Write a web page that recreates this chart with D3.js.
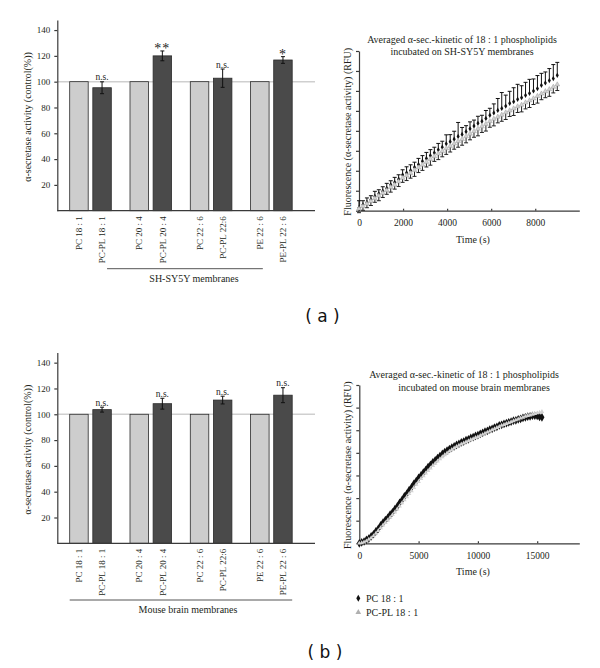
<!DOCTYPE html>
<html>
  <head>
    <meta charset="utf-8">
    <title>alpha-secretase activity</title>
    <script src="https://cdn.jsdelivr.net/npm/d3@7"></script>
    <style>
      body { margin: 0; background: #fff; }
      svg { display: block; }
    </style>
  </head>
  <body>
    <svg></svg>
    <script>
      // bar charts
      let categories = ["PC 18 : 1", "PC-PL 18 : 1", "PC 20 : 4", "PC-PL 20 : 4",
                        "PC 22 : 6", "PC-PL 22:6", "PE 22 : 6", "PE-PL 22 : 6"];
      let barTicks = [20, 40, 60, 80, 100, 120, 140];

      let valuesA = [100, 95.3, 100, 120, 100, 102.7, 100, 116.8];
      let errorsA = [0, 4.6, 0, 3.8, 0, 7.1, 0, 2.6];
      let sigA = ["", "n.s.", "", "**", "", "n.s.", "", "*"];

      let valuesB = [100, 103.6, 100, 108.2, 100, 111, 100, 114.8];
      let errorsB = [0, 1.9, 0, 4.2, 0, 3, 0, 5.8];
      let sigB = ["", "n.s.", "", "n.s.", "", "n.s.", "", "n.s."];

      // kinetics (a), SH-SY5Y
      let timeA = [0,180,360,540,720,900,1080,1260,1440,1620,1800,1980,2160,2340,2520,2700,2880,3060,3240,3420,
                   3600,3780,3960,4140,4320,4500,4680,4860,5040,5220,5400,5580,5760,5940,6120,6300,6480,6660,6840,7020,
                   7200,7380,7560,7740,7920,8100,8280,8460,8640,8820,9000];
      let pcA = [0.15,0.30,0.42,0.55,0.72,0.85,0.98,1.12,1.30,1.42,
                 1.58,1.80,1.90,2.02,2.18,2.32,2.48,2.62,2.76,2.90,
                 3.05,3.18,3.35,3.46,3.58,3.72,3.82,3.96,4.10,4.24,
                 4.38,4.48,4.62,4.78,4.90,5.02,5.12,5.24,5.38,5.46,
                 5.58,5.66,5.78,5.88,6.00,6.12,6.28,6.40,6.52,6.62,6.78];
      let pcErrA = [0.35,0.2,0.22,0.2,0.25,0.2,0.22,0.25,0.2,0.25,
                    0.22,0.25,0.3,0.28,0.25,0.3,0.28,0.3,0.3,0.28,
                    0.32,0.3,0.45,0.35,0.4,0.7,0.35,0.3,0.35,0.3,
                    0.35,0.3,0.4,0.35,0.45,0.6,0.8,0.55,0.6,0.7,
                    0.75,0.6,0.65,0.7,0.6,0.65,0.6,0.55,0.6,0.7,0.65];
      let plA = [0.10,0.22,0.35,0.48,0.62,0.75,0.88,1.02,1.18,1.30,
                 1.46,1.64,1.76,1.88,2.02,2.16,2.30,2.44,2.58,2.72,
                 2.86,2.98,3.12,3.24,3.36,3.48,3.58,3.72,3.85,3.98,
                 4.10,4.22,4.34,4.48,4.60,4.70,4.80,4.92,5.02,5.12,
                 5.22,5.30,5.42,5.52,5.62,5.74,5.86,5.98,6.08,6.20,6.32];
      let plErrA = [0.2,0.2,0.2,0.22,0.2,0.25,0.22,0.2,0.25,0.22,
                    0.25,0.22,0.25,0.25,0.3,0.25,0.28,0.25,0.3,0.25,
                    0.3,0.28,0.3,0.3,0.28,0.3,0.3,0.32,0.3,0.3,
                    0.35,0.3,0.35,0.3,0.35,0.3,0.32,0.35,0.3,0.35,
                    0.3,0.35,0.32,0.35,0.3,0.35,0.3,0.32,0.35,0.3,0.3];

      // kinetics (b), mouse brain
      let timeB = [0,200,400,600,800,1000,1200,1400,1600,1800,2000,2200,2400,2600,2800,3000,3200,3400,3600,3800,
                   4000,4200,4400,4600,4800,5000,5200,5400,5600,5800,6000,6200,6400,6600,6800,7000,7200,7400,7600,7800,
                   8000,8200,8400,8600,8800,9000,9200,9400,9600,9800,10000,10200,10400,10600,10800,11000,11200,11400,11600,11800,
                   12000,12200,12400,12600,12800,13000,13200,13400,13600,13800,14000,14200,14400,14600,14800,15000,15200,15400];
      let pcB = [0.00,0.04,0.08,0.15,0.21,0.31,0.40,0.53,0.64,0.79,
                 0.92,1.03,1.13,1.27,1.37,1.51,1.63,1.79,1.91,2.07,
                 2.19,2.35,2.47,2.63,2.75,2.89,3.00,3.13,3.24,3.37,
                 3.47,3.58,3.67,3.77,3.86,3.95,4.03,4.10,4.17,4.23,
                 4.29,4.35,4.40,4.46,4.50,4.56,4.60,4.66,4.69,4.75,
                 4.78,4.84,4.88,4.94,4.97,5.03,5.06,5.12,5.15,5.21,
                 5.24,5.28,5.31,5.35,5.38,5.42,5.44,5.48,5.50,5.55,
                 5.57,5.60,5.61,5.64,5.64,5.63,5.59,5.57];
      let plB = [0.00,0.02,0.05,0.10,0.17,0.24,0.33,0.44,0.56,0.68,
                 0.80,0.91,1.02,1.14,1.26,1.38,1.51,1.64,1.78,1.92,
                 2.05,2.19,2.32,2.46,2.60,2.73,2.86,2.98,3.10,3.21,
                 3.32,3.43,3.53,3.63,3.73,3.82,3.91,3.99,4.07,4.14,
                 4.21,4.27,4.33,4.38,4.43,4.48,4.53,4.58,4.62,4.67,
                 4.71,4.76,4.81,4.86,4.91,4.96,5.01,5.06,5.11,5.16,
                 5.21,5.25,5.29,5.33,5.37,5.41,5.45,5.49,5.53,5.57,
                 5.61,5.64,5.67,5.70,5.73,5.76,5.79,5.82];

      let timeTicksA = [0, 2000, 4000, 6000, 8000];
      let timeTicksB = [0, 5000, 10000, 15000];
      let legendLabels = ["PC 18 : 1", "PC-PL 18 : 1"];

      let serif = "'Liberation Serif', 'Times New Roman', serif";
      let ink = "#231f20";
      let axisColor = "#3a3a3a";

      let svg = d3.select("svg")
                  .attr("width", 600)
                  .attr("height", 668)
                  .style("font-family", serif);

      let styleAxis = g => {
        g.selectAll("path, line").attr("stroke", axisColor).attr("stroke-width", 1.2);
        g.selectAll("text").attr("fill", ink).attr("font-family", serif);
      };

      function barPanel(off, values, errors, sig, groupLabel, bracket) {
        let g = svg.append("g");
        let baseY = 210.7 + off;

        let groupScale = d3.scaleBand()
                           .domain(d3.range(4))
                           .range([69.7, 292.2])
                           .paddingInner(0.31);
        let sub = d3.scaleBand()
                    .domain([0, 1])
                    .range([0, groupScale.bandwidth()])
                    .paddingInner(0.2);
        let xPos = i => groupScale(Math.floor(i / 2)) + sub(i % 2);
        let bw = sub.bandwidth();

        let y = d3.scaleLinear().domain([0, 147.8]).range([baseY, 20 + off]);

        //reference line at 100 %
        g.append("line")
         .attr("x1", 57.3).attr("x2", 315)
         .attr("y1", y(100)).attr("y2", y(100))
         .attr("stroke", "#cfcfcf")
         .attr("stroke-width", 1.5);

        g.selectAll(".bar")
         .data(values)
         .enter()
         .append("rect")
         .attr("x", (d, i) => xPos(i))
         .attr("y", d => y(d))
         .attr("width", bw)
         .attr("height", d => baseY - y(d))
         .attr("fill", (d, i) => i % 2 ? "#4a4a4a" : "#cdcdcd")
         .attr("stroke", "#2b2b2b")
         .attr("stroke-width", 0.8);

        //error bars
        let errG = g.selectAll(".err")
                    .data(values.map((v, i) => ({v: v, e: errors[i], i: i})).filter(d => d.e > 0))
                    .enter()
                    .append("g")
                    .attr("stroke", "#111")
                    .attr("stroke-width", 1);
        errG.append("line")
            .attr("x1", d => xPos(d.i) + bw / 2).attr("x2", d => xPos(d.i) + bw / 2)
            .attr("y1", d => y(d.v - d.e)).attr("y2", d => y(d.v + d.e));
        [-1, 1].forEach(s => {
          errG.append("line")
              .attr("x1", d => xPos(d.i) + bw / 2 - 2).attr("x2", d => xPos(d.i) + bw / 2 + 2)
              .attr("y1", d => y(d.v + s * d.e)).attr("y2", d => y(d.v + s * d.e));
        });

        //significance marks
        g.selectAll(".sig")
         .data(sig.map((s, i) => ({s: s, i: i})).filter(d => d.s !== ""))
         .enter()
         .append("text")
         .attr("x", d => xPos(d.i) + bw / 2)
         .attr("y", d => y(values[d.i] + errors[d.i]) + (d.s === "n.s." ? -1.5 : 2.5))
         .attr("text-anchor", "middle")
         .attr("fill", "#222")
         .attr("font-size", d => d.s === "n.s." ? 9.5 : 14)
         .attr("letter-spacing", d => d.s === "n.s." ? 0 : 1)
         .text(d => d.s);

        //y axis
        g.append("g")
         .attr("transform", "translate(57.3,0)")
         .call(d3.axisLeft(y).tickValues(barTicks).tickSize(3).tickPadding(4).tickSizeOuter(0))
         .attr("font-size", 9)
         .call(styleAxis);

        //x axis line
        g.append("line")
         .attr("x1", 57.3).attr("x2", 315)
         .attr("y1", baseY).attr("y2", baseY)
         .attr("stroke", axisColor)
         .attr("stroke-width", 1.2);

        //category labels
        g.selectAll(".cat")
         .data(categories)
         .enter()
         .append("text")
         .attr("transform", (d, i) => "translate(" + (xPos(i) + bw / 2) + "," + (baseY + 5.5) + ") rotate(-90)")
         .attr("dy", "0.35em")
         .attr("text-anchor", "end")
         .attr("font-size", 9)
         .attr("fill", ink)
         .text(d => d);

        //bracket and group label
        g.append("line")
         .attr("x1", bracket.from(xPos, bw)).attr("x2", bracket.to(xPos, bw))
         .attr("y1", bracket.y + off).attr("y2", bracket.y + off)
         .attr("stroke", "#555")
         .attr("stroke-width", 1);
        g.append("text")
         .attr("x", bracket.labelX)
         .attr("y", bracket.y + off + 13)
         .attr("text-anchor", "middle")
         .attr("font-size", 10)
         .attr("fill", ink)
         .text(groupLabel);

        //y axis title
        g.append("text")
         .attr("transform", "translate(31," + (117 + off) + ") rotate(-90)")
         .attr("text-anchor", "middle")
         .attr("font-size", 10)
         .attr("fill", ink)
         .text("α-secretase activity (control(%))");
      }

      function kineticPanel(cfg) {
        let g = svg.append("g");
        let x = d3.scaleLinear().domain([0, cfg.xMax]).range([cfg.x0, 579.3]);
        let y = d3.scaleLinear().domain([0, cfg.yMax]).range([cfg.y0, cfg.yTop]);

        g.append("g")
         .attr("transform", "translate(" + cfg.x0 + ",0)")
         .call(d3.axisLeft(y).ticks(cfg.yMax).tickFormat("").tickSize(3).tickSizeOuter(0))
         .call(styleAxis);

        g.append("g")
         .attr("transform", "translate(0," + cfg.y0 + ")")
         .call(d3.axisBottom(x).tickValues(cfg.xTicks).tickFormat(d3.format("d"))
                 .tickSize(-2).tickPadding(8.6).tickSizeOuter(0))
         .attr("font-size", 9.5)
         .call(styleAxis);

        let pcPts = cfg.time.map((t, i) => ({t: t, v: cfg.pc[i], e: cfg.pcErr ? cfg.pcErr[i] : 0}));
        let plPts = cfg.time.map((t, i) => ({t: t, v: cfg.pl[i], e: cfg.plErr ? cfg.plErr[i] : 0}));

        //error bars: PC upwards, PC-PL downwards
        let drawErr = (pts, sign, color) => {
          let eg = g.append("g").attr("stroke", color).attr("stroke-width", 1);
          eg.selectAll(".v")
            .data(pts.filter(d => d.e > 0))
            .enter()
            .append("path")
            .attr("d", d => {
              let px = x(d.t), y1 = y(d.v), y2 = y(d.v + sign * d.e);
              return "M" + px + "," + y1 + "V" + y2 + "M" + (px - 2) + "," + y2 + "H" + (px + 2);
            });
        };

        drawErr(pcPts, 1, "#111");

        g.append("g")
         .selectAll("path")
         .data(pcPts)
         .enter()
         .append("path")
         .attr("transform", d => "translate(" + x(d.t) + "," + y(d.v) + ")")
         .attr("d", d3.symbol().type(d3.symbolDiamond).size(cfg.pcSize))
         .attr("fill", "#111");

        drawErr(plPts, -1, "#222");

        g.append("g")
         .selectAll("path")
         .data(plPts)
         .enter()
         .append("path")
         .attr("transform", d => "translate(" + x(d.t) + "," + y(d.v) + ")")
         .attr("d", d3.symbol().type(d3.symbolTriangle).size(cfg.plSize))
         .attr("fill", "#d2d2d2")
         .attr("stroke", cfg.plStroke)
         .attr("stroke-width", 0.4);

        //titles
        cfg.title.forEach((line, i) => {
          g.append("text")
           .attr("x", cfg.titleX[i])
           .attr("y", cfg.titleY + i * 12.5)
           .attr("text-anchor", "middle")
           .attr("font-size", 10)
           .attr("fill", ink)
           .text(line);
        });

        g.append("text")
         .attr("x", 473)
         .attr("y", cfg.y0 + 32)
         .attr("text-anchor", "middle")
         .attr("font-size", 10)
         .attr("fill", ink)
         .text("Time (s)");

        g.append("text")
         .attr("transform", "translate(351," + ((cfg.y0 + cfg.yTop) / 2 + 1) + ") rotate(-90)")
         .attr("text-anchor", "middle")
         .attr("font-size", 10)
         .attr("fill", ink)
         .text("Fluorescence (α-secretase activity) (RFU)");
      }

      let panelOffset = 332.6;

      barPanel(0, valuesA, errorsA, sigA, "SH-SY5Y membranes", {
        y: 268.7, labelX: 194,
        from: (xPos, bw) => xPos(1) + bw / 2 + 5,
        to: (xPos, bw) => xPos(6) + bw / 2 + 3
      });

      barPanel(panelOffset, valuesB, errorsB, sigB, "Mouse brain membranes", {
        y: 267.4, labelX: 188,
        from: (xPos, bw) => xPos(0),
        to: (xPos, bw) => xPos(7) + bw
      });

      kineticPanel({
        x0: 359, y0: 210.7, yTop: 51, xMax: 10000, yMax: 8, xTicks: timeTicksA,
        time: timeA, pc: pcA, pcErr: pcErrA, pl: plA, plErr: plErrA,
        pcSize: 8, plSize: 10, plStroke: "#8a8a8a",
        title: ["Averaged α-sec.-kinetic of 18 : 1 phospholipids", "incubated on SH-SY5Y membranes"],
        titleX: [462, 462], titleY: 42.5
      });

      kineticPanel({
        x0: 359.3, y0: 543.3, yTop: 385, xMax: 18550, yMax: 7, xTicks: timeTicksB,
        time: timeB, pc: pcB, pl: plB,
        pcSize: 22, plSize: 9, plStroke: "none",
        title: ["Averaged α-sec.-kinetic of 18 : 1 phospholipids", "incubated on mouse brain membranes"],
        titleX: [464, 474], titleY: 378
      });

      //legend
      let legend = svg.append("g");
      legendLabels.forEach((label, i) => {
        legend.append("path")
              .attr("transform", "translate(358.3," + (598.3 + i * 14) + ")")
              .attr("d", d3.symbol().type(i ? d3.symbolTriangle : d3.symbolDiamond).size(14))
              .attr("fill", i ? "#b0b0b0" : "#111");
        legend.append("text")
              .attr("x", 366)
              .attr("y", 601.8 + i * 14)
              .attr("font-size", 10)
              .attr("fill", ink)
              .text(label);
      });

      //panel letters
      [["( a )", 322.5, 322], ["( b )", 325, 658]].forEach(p => {
        svg.append("text")
           .attr("x", p[1])
           .attr("y", p[2])
           .attr("text-anchor", "middle")
           .attr("font-family", "'DejaVu Sans', sans-serif")
           .attr("font-size", 17)
           .attr("fill", "#111")
           .text(p[0]);
      });
    </script>
  </body>
</html>
